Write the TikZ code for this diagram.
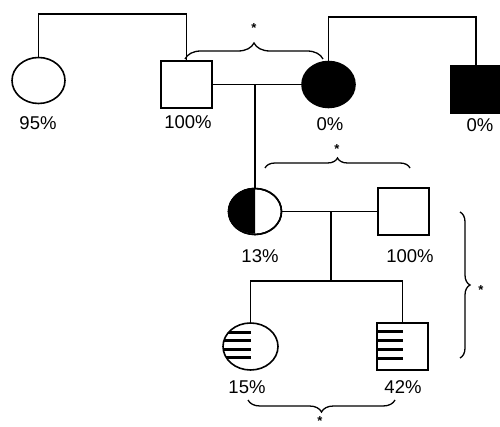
\documentclass[tikz,border=0pt]{standalone}
\usepackage{fontspec}
\setmainfont{Liberation Sans}
\usetikzlibrary{shapes.geometric,decorations.pathreplacing}
\begin{document}
\begin{tikzpicture}[x=1pt,y=-1pt,
  fem/.style={ellipse, draw, line width=1.6pt, inner sep=0pt, minimum width=53pt, minimum height=46pt},
  mal/.style={rectangle, draw, line width=1.6pt, inner sep=0pt, minimum width=51pt, minimum height=47pt},
  lab/.style={font=\fontsize{18.5}{20}\selectfont, inner sep=0pt},
  starmark/.style={font=\fontsize{13}{13}\selectfont\bfseries, inner sep=0pt},
  link/.style={line width=1.4pt},
  stripe/.style={line width=3pt},
  brc/.style={line width=1.3pt, decorate, decoration={brace, amplitude=#1}},
]
\useasboundingbox (0,0) rectangle (500,427);

% generation 1
\node[fem] (f1) at (38.5,80.5) {};
\node[mal] (m1) at (186.5,84.5) {};
\node[fem, fill=black] (f2) at (328.5,84.5) {};
\node[mal, fill=black, minimum width=50pt] (m2) at (476,89.5) {};
\node[lab] (l1) at (38,123) {95\%};
\node[lab] (l2) at (188,122) {100\%};
\node[lab] (l3) at (330,124) {0\%};
\node[lab] (l4) at (480,125) {0\%};

\coordinate (top1) at (100,14);
\coordinate (top2) at (400,17);
\draw[link] (f1.north) -- (f1.north |- top1) -| (m1.north);
\draw[link] (f2.north) -- (f2.north |- top2) -| (m2.north);
\draw[link] (m1.east) -- (f2.west);

% generation 2
\node[fem] (hc) at (255,211.5) {};
\fill (hc.north) arc[start angle=90, end angle=270, x radius=26.5pt, y radius=23pt] -- cycle;
\node[fem] at (255,211.5) {};
\node[mal] (s2) at (403.5,211.5) {};
\node[lab] (l5) at (260,256) {13\%};
\node[lab] (l6) at (410,256) {100\%};

\coordinate (d1) at (255,84.5);
\draw[link] (d1) -- (hc.north);
\draw[link] (hc.east) -- (s2.west);
\coordinate (d2) at (331,211.5);
\coordinate (sib) at (331,281);
\draw[link] (d2) -- (sib);

% generation 3
\node[fem, minimum width=55pt, minimum height=47pt] (c3) at (250.5,346.5) {};
\begin{scope}
  \clip (c3.center) ellipse [x radius=27.5pt, y radius=23.5pt];
  \foreach \yy in {332,340.5,349,357.5} \draw[stripe] (215,\yy) -- (251,\yy);
\end{scope}
\node[mal] (s3) at (402.5,346.5) {};
\foreach \yy in {331,340,349,358} \draw[stripe] (377,\yy) -- (403,\yy);
\node[lab] (l7) at (247,387) {15\%};
\node[lab] (l8) at (403,387) {42\%};

\draw[link] (c3.north) |- (sib) -| (s3.north);

% braces
\draw[brc=16pt] (185,59) -- (323,59);
\draw[brc=10pt] (265,168) -- (410,168);
\draw[brc=10pt] (460,212) -- (460,358);
\draw[brc=12pt] (395,400) -- (248,400);

% stars
\node[starmark] (st1) at (254,28) {*};
\node[starmark] (st2) at (337,149) {*};
\node[starmark] (st3) at (481,290) {*};
\node[starmark] (st4) at (320,421) {*};
\end{tikzpicture}
\end{document}
